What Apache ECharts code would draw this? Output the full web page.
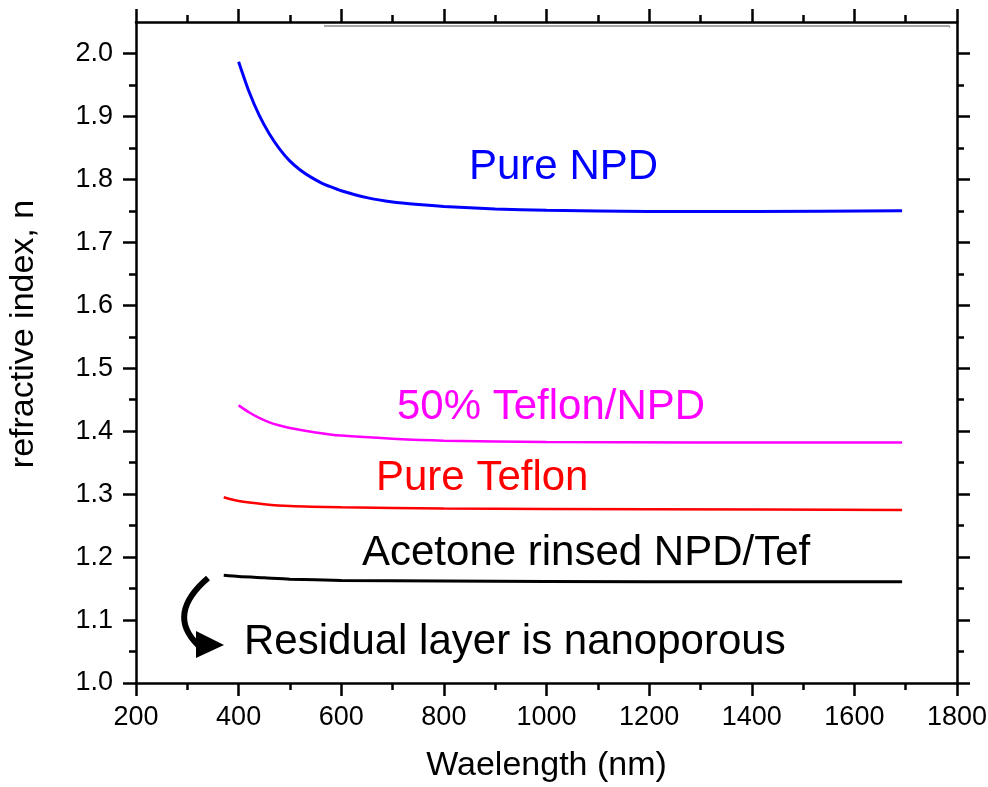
<!DOCTYPE html>
<html>
<head>
<meta charset="utf-8">
<script src="https://cdn.jsdelivr.net/npm/echarts@6/dist/echarts.min.js"></script>
<style>
  html, body { margin: 0; padding: 0; background: #fff; }
  #chart { width: 988px; height: 787px; }
</style>
</head>
<body>
<div id="chart"></div>
<script>
// wavelength (nm) and refractive index
const npdWl = [400, 420, 440, 460, 480, 500, 520, 540, 560, 580, 600, 650, 700, 750, 800, 900, 1000, 1200, 1400, 1693]
const npdN = [1.987, 1.940, 1.902, 1.872, 1.848, 1.829, 1.815, 1.804, 1.795, 1.788, 1.782, 1.771, 1.764, 1.760, 1.757, 1.753, 1.751, 1.749, 1.749, 1.750]

const mixWl = [400, 420, 440, 460, 480, 500, 550, 600, 700, 800, 1000, 1300, 1693]
const mixN = [1.441, 1.430, 1.421, 1.414, 1.409, 1.405, 1.398, 1.393, 1.388, 1.385, 1.383, 1.382, 1.382]

const teflonWl = [371, 400, 450, 500, 600, 800, 1200, 1693]
const teflonN = [1.295, 1.289, 1.284, 1.281, 1.279, 1.277, 1.276, 1.275]

const rinsedWl = [371, 400, 450, 500, 600, 800, 1200, 1693]
const rinsedN = [1.171, 1.169, 1.167, 1.165, 1.163, 1.162, 1.161, 1.161]

const yMajor = [1.0, 1.1, 1.2, 1.3, 1.4, 1.5, 1.6, 1.7, 1.8, 1.9, 2.0]
const yMinor = [1.05, 1.15, 1.25, 1.35, 1.45, 1.55, 1.65, 1.75, 1.85, 1.95]

const font = 'Liberation Sans, Arial, sans-serif'
const pairs = (xs, ys) => xs.map((x, i) => [x, ys[i]])

const chart = echarts.init(document.getElementById('chart'))

function yAx(position, ticks, len, showLine, showLabel) {
  return {
    type: 'value', position: position, min: 1.0, max: 2.05,
    axisLine: { show: showLine, onZero: false, lineStyle: { color: '#000', width: 2.5 } },
    axisTick: { show: true, inside: false, length: len, customValues: ticks,
      lineStyle: { color: '#000', width: 2.5 } },
    axisLabel: { show: showLabel, customValues: ticks, margin: 23, fontSize: 27,
      color: '#000', fontFamily: font, formatter: v => v.toFixed(1) },
    splitLine: { show: false }
  }
}

function xAx(position, showLabel) {
  return {
    type: 'value', position: position, min: 200, max: 1800, interval: 200,
    axisLine: { onZero: false, lineStyle: { color: '#000', width: 2.5 } },
    axisTick: { inside: false, length: 13, lineStyle: { color: '#000', width: 2.5 } },
    minorTick: { show: true, splitNumber: 2, length: 7, lineStyle: { color: '#000', width: 2.5 } },
    axisLabel: { show: showLabel, margin: 21, fontSize: 27, color: '#000', fontFamily: font,
      formatter: v => String(v) },
    splitLine: { show: false }
  }
}

function line(name, data, color, width) {
  return {
    name: name, type: 'line', data: data, xAxisIndex: 0, yAxisIndex: 0,
    showSymbol: false, smooth: 0.25,
    lineStyle: { color: color, width: width }
  }
}

const bottomX = xAx('bottom', true)
bottomX.name = 'Waelength (nm)'
bottomX.nameLocation = 'middle'
bottomX.nameGap = 66
bottomX.nameTextStyle = { fontSize: 34, color: '#000', fontFamily: font }

function label(text, x, y, color) {
  return { type: 'text', x: x, y: y, z: 10,
    style: { text: text, fill: color, font: '42px ' + font, textAlign: 'left', textVerticalAlign: 'middle' } }
}

chart.setOption({
  animation: false,
  backgroundColor: '#fff',
  grid: { left: 136, right: 31, top: 22, bottom: 104, containLabel: false, outerBoundsMode: 'none' },
  xAxis: [bottomX, xAx('top', false)],
  yAxis: [
    yAx('left', yMajor, 13, true, true),
    yAx('left', yMinor, 7, false, false),
    yAx('right', yMajor, 13, true, false),
    yAx('right', yMinor, 7, false, false)
  ],
  series: [
    line('Pure NPD', pairs(npdWl, npdN), '#0000ff', 3),
    line('50% Teflon/NPD', pairs(mixWl, mixN), '#ff00ff', 2.5),
    line('Pure Teflon', pairs(teflonWl, teflonN), '#ff0000', 2.5),
    line('Acetone rinsed NPD/Tef', pairs(rinsedWl, rinsedN), '#000000', 3)
  ],
  graphic: [
    { type: 'text', x: 24, y: 334, rotation: Math.PI / 2,
      style: { text: 'refractive index, n', fill: '#000', font: '34px ' + font,
        textAlign: 'center', textVerticalAlign: 'middle' } },
    label('Pure NPD', 469, 167, '#0000ff'),
    label('50% Teflon/NPD', 397, 407, '#ff00ff'),
    label('Pure Teflon', 376, 478, '#ff0000'),
    label('Acetone rinsed NPD/Tef', 362, 553, '#000000'),
    label('Residual layer is nanoporous', 244, 642, '#000000'),
    // curved arrow
    { type: 'bezierCurve', z: 10,
      shape: { x1: 208, y1: 578, cpx1: 166, cpy1: 614, x2: 198, y2: 645 },
      style: { stroke: '#000', lineWidth: 6, fill: null } },
    { type: 'polygon', z: 10,
      shape: { points: [[196, 631], [196, 658], [224, 645]] },
      style: { fill: '#000' } },
    // stray grey rule under the top axis
    { type: 'polyline', z: 5,
      shape: { points: [[324, 26], [949, 26], [950, 27.5]] },
      style: { stroke: '#8a8a8a', lineWidth: 1.3, fill: null } }
  ]
})
</script>
</body>
</html>
